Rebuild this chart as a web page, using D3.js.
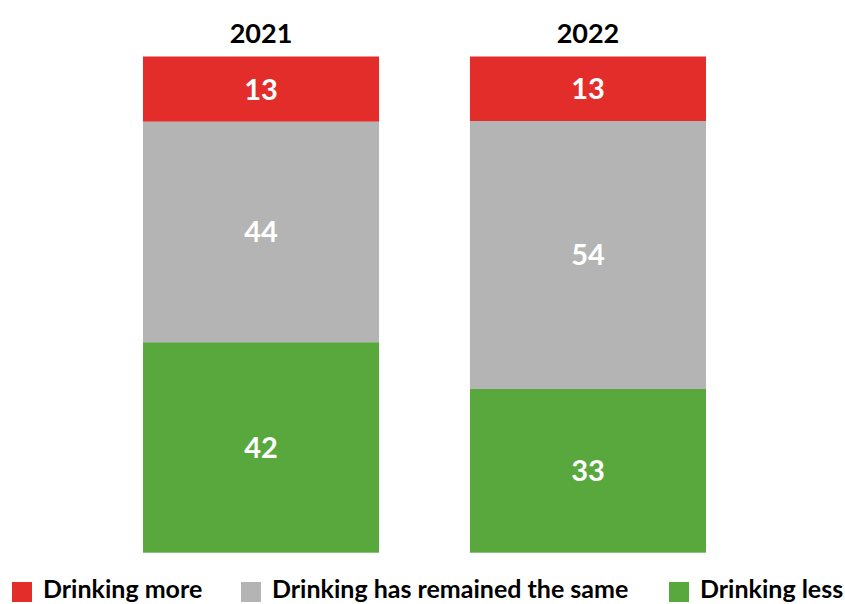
<!DOCTYPE html>
<html>
<head>
<meta charset="utf-8">
<script src="https://cdn.jsdelivr.net/npm/d3@7"></script>
<style>
  html, body { margin: 0; padding: 0; background: #fff; }
  svg { display: block; font-family: Lato, "DejaVu Sans", sans-serif; }
</style>
</head>
<body>
<svg id="chart" width="845" height="604"></svg>
<script>
// Share of respondents by change in drinking, per survey year
const years = ["2021", "2022"];
const seriesKeys = ["less", "same", "more"];
const seriesNames = {
  more: "Drinking more",
  same: "Drinking has remained the same",
  less: "Drinking less"
};
const drinkingMore = [13, 13];
const drinkingSame = [44, 54];
const drinkingLess = [42, 33];
const legendOrder = ["more", "same", "less"];
const colors = { more: "#E32D2A", same: "#B4B4B4", less: "#59A83D" };

const rows = years.map((y, i) => ({
  year: y,
  more: drinkingMore[i],
  same: drinkingSame[i],
  less: drinkingLess[i]
}));

const svg = d3.select("#chart");

// each bar is stacked to its own total (100% stacked)
const stacked = d3.stack()
  .keys(seriesKeys)
  .offset(d3.stackOffsetExpand)(rows);

const x = d3.scaleBand()
  .domain(years)
  .range([143, 706])
  .paddingInner(0.278)
  .paddingOuter(0);

const y = d3.scaleLinear().domain([0, 1]).range([552.7, 56.5]);

const layers = svg.append("g").selectAll("g")
  .data(stacked)
  .join("g")
  .attr("fill", d => colors[d.key]);

layers.selectAll("rect")
  .data(d => d)
  .join("rect")
  .attr("x", d => x(d.data.year))
  .attr("width", x.bandwidth())
  .attr("y", d => y(d[1]))
  .attr("height", d => y(d[0]) - y(d[1]));

// value labels centred in each segment
layers.selectAll("text")
  .data(d => d.map(s => ({ s, key: d.key })))
  .join("text")
  .attr("x", d => x(d.s.data.year) + x.bandwidth() / 2)
  .attr("y", d => (y(d.s[0]) + y(d.s[1])) / 2)
  .attr("dy", "0.36em")
  .attr("text-anchor", "middle")
  .attr("fill", "#fff")
  .attr("font-weight", 700)
  .attr("font-size", 29)
  .text(d => d.s.data[d.key]);

// year headings above the bars
svg.append("g").selectAll("text")
  .data(years)
  .join("text")
  .attr("x", d => x(d) + x.bandwidth() / 2)
  .attr("y", 43)
  .attr("text-anchor", "middle")
  .attr("fill", "#000")
  .attr("font-weight", 700)
  .attr("font-size", 27)
  .text(d => d);

// legend along the bottom
const legendX = { more: 12, same: 241, less: 669 };
const legend = svg.append("g").selectAll("g")
  .data(legendOrder)
  .join("g")
  .attr("transform", d => `translate(${legendX[d]},582)`);

legend.append("rect")
  .attr("width", 20)
  .attr("height", 20)
  .attr("fill", d => colors[d]);

legend.append("text")
  .attr("x", 31)
  .attr("y", 16)
  .attr("fill", "#000")
  .attr("font-weight", 700)
  .attr("font-size", 25)
  .text(d => seriesNames[d]);
</script>
</body>
</html>
